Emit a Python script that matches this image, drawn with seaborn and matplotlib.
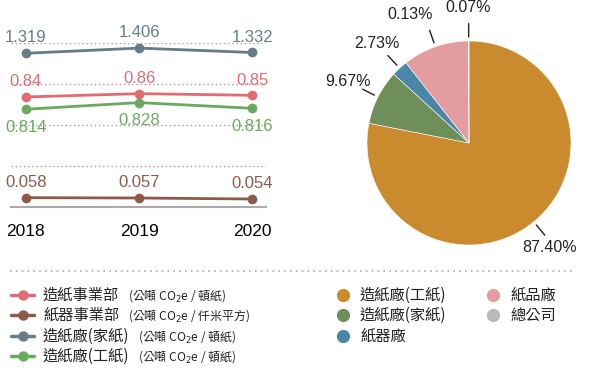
import matplotlib
matplotlib.use("Agg")
import matplotlib.pyplot as plt
import seaborn as sns
import pandas as pd
import numpy as np
from matplotlib.lines import Line2D

# ---- data ----
years = [2018, 2019, 2020]
series_names = ["造紙事業部", "紙器事業部", "造紙廠(家紙)", "造紙廠(工紙)"]
series_units = ["(公噸 CO$_2$e / 頓紙)", "(公噸 CO$_2$e / 仟米平方)",
                "(公噸 CO$_2$e / 頓紙)", "(公噸 CO$_2$e / 頓紙)"]
paper_div = [0.84, 0.86, 0.85]
box_div = [0.058, 0.057, 0.054]
household = [1.319, 1.406, 1.332]
industrial = [0.814, 0.828, 0.816]

pie_names = ["造紙廠(工紙)", "造紙廠(家紙)", "紙器廠", "紙品廠", "總公司"]
pie_shares = [78.1, 8.7, 2.6, 10.5, 0.1]
pie_labels = ["87.40%", "9.67%", "2.73%", "0.13%", "0.07%"]

# ---- styles ----
line_colors = ["#e06b73", "#8e5b4b", "#667d88", "#6aaa5e"]
pie_colors = ["#c98b2e", "#6e8f5a", "#4a86a8", "#e39ca0", "#b8b8b8"]
# each series sits in its own band of the panel
band_ylims = [(0.173, 1.167), (0.030, 0.522), (-1.273, 1.492), (0.609, 0.953)]
label_offsets = [11, 11, 11, -13]
pie_label_nudge = [-0.05, 0, 0, -0.14, 0]  # x shift (radius units) to keep labels apart

sns.set_theme(style="white")
plt.rcParams["font.family"] = ["Liberation Sans", "DejaVu Sans"]
CJK = "Noto Sans CJK TC"

W, H = 605, 370
fig = plt.figure(figsize=(W / 100, H / 100), dpi=100)


def rect(x0, y0, x1, y1):
    return [x0 / W, 1 - y1 / H, (x1 - x0) / W, (y1 - y0) / H]


# ---- line panel ----
ax = fig.add_axes(rect(11, 43, 266, 207))
ax.set_xlim(2017.87, 2020.12)
ax.set_ylim(0, 1)
for gy in [0.25, 0.5, 0.75, 1.0]:
    ax.axhline(gy, color="#9a9a9a", lw=1, ls=(0, (1, 2)))
for s in ["top", "right", "left"]:
    ax.spines[s].set_visible(False)
ax.spines["bottom"].set_color("#aaaaaa")
ax.spines["bottom"].set_linewidth(1.5)
ax.set_yticks([])
ax.set_xticks(years)
ax.set_xticklabels([str(y) for y in years], fontsize=12.5, color="black")
ax.tick_params(axis="x", length=0, pad=12)

all_series = [paper_div, box_div, household, industrial]
for vals, col, ylim, off in zip(all_series, line_colors, band_ylims, label_offsets):
    axi = fig.add_axes(ax.get_position(), sharex=ax)
    axi.patch.set_visible(False)
    df = pd.DataFrame({"year": years, "value": vals})
    sns.lineplot(data=df, x="year", y="value", ax=axi, color=col, lw=2,
                 marker="o", markersize=7, markeredgewidth=0)
    axi.set_ylim(*ylim)
    axi.axis("off")
    for x, v in zip(years, vals):
        axi.annotate(f"{v:g}", (x, v), xytext=(0, off), textcoords="offset points",
                     ha="center", va="center", fontsize=12, color=col,
                     annotation_clip=False)

# ---- pie ----
pax = fig.add_axes(rect(367, 41, 571, 245))
wedges, _ = pax.pie(pie_shares, colors=pie_colors, startangle=90, counterclock=False,
                    wedgeprops=dict(edgecolor="white", linewidth=0.4))
pax.set_xlim(-1, 1)
pax.set_ylim(-1, 1)
pax.set_aspect("equal")
for w, lab, nx in zip(wedges, pie_labels, pie_label_nudge):
    a = np.deg2rad((w.theta1 + w.theta2) / 2)
    cx, cy = np.cos(a), np.sin(a)
    pax.plot([1.04 * cx, 1.17 * cx], [1.04 * cy, 1.17 * cy], color="#222222", lw=1,
             clip_on=False)
    pax.text(1.33 * cx + nx, 1.33 * cy, lab, ha="center", va="center", fontsize=11.5,
             color="#222222", clip_on=False)

# ---- separator ----
fig.add_artist(Line2D([10 / W, 575 / W], [1 - 271 / H] * 2, color="#aaaaaa", lw=1.2,
                      ls=(0, (1, 2.5)), transform=fig.transFigure))

# ---- left legend ----
renderer = fig.canvas.get_renderer()
rows = [295, 315, 336, 356]
for name, unit, col, ry in zip(series_names, series_units, line_colors, rows):
    yf = 1 - ry / H
    fig.add_artist(Line2D([11 / W, 34 / W], [yf, yf], color=col, lw=2.5,
                          transform=fig.transFigure))
    fig.add_artist(Line2D([22.5 / W], [yf], color=col, marker="o", markersize=7.5,
                          markeredgewidth=0, transform=fig.transFigure))
    t = fig.text(43 / W, yf, name, family=CJK, fontsize=11, va="center", color="#222222")
    bb = t.get_window_extent(renderer)
    fig.text((bb.x1 + 9) / W, yf - 1 / H, unit, family=CJK, fontsize=8.6, va="center",
             color="#222222")

# ---- right legend ----
spots = [(343, 295), (343, 315), (343, 336), (493, 295), (493, 315)]
for name, col, (px, py) in zip(pie_names, pie_colors, spots):
    yf = 1 - py / H
    fig.add_artist(Line2D([px / W], [yf], color=col, marker="o", markersize=9.5,
                          markeredgewidth=0, transform=fig.transFigure))
    fig.text((px + 17) / W, yf, name, family=CJK, fontsize=11, va="center",
             color="#222222")

fig.savefig("out.png", dpi=100)
